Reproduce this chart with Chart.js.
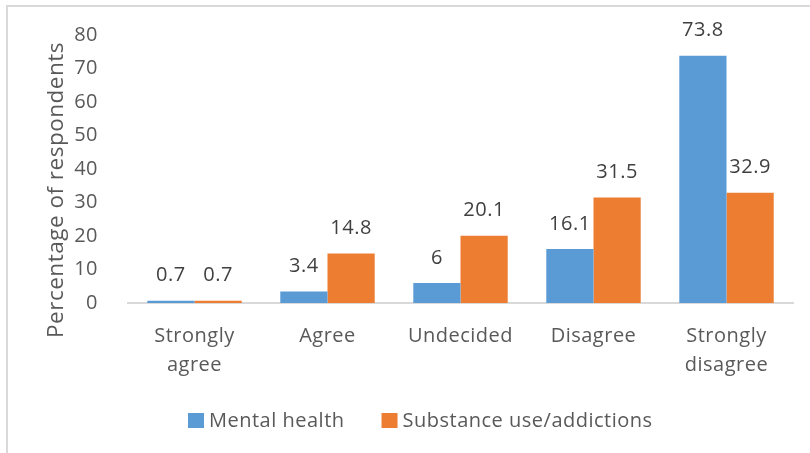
<!DOCTYPE html>
<html>
<head>
<meta charset="utf-8">
<script src="https://cdn.jsdelivr.net/npm/chart.js@4.4.1/dist/chart.umd.min.js"></script>
<style>
  html, body { margin: 0; padding: 0; background: #ffffff; }
  #wrap { width: 810px; height: 453px; position: relative; }
</style>
</head>
<body>
<div id="wrap"><canvas id="c" width="810" height="453"></canvas></div>
<script>
const categories = [["Strongly", "agree"], "Agree", "Undecided", "Disagree", ["Strongly", "disagree"]];
const mentalHealth = [0.7, 3.4, 6, 16.1, 73.8];
const substanceUse = [0.7, 14.8, 20.1, 31.5, 32.9];
const seriesNames = ["Mental health", "Substance use/addictions"];
const yTitle = "Percentage of respondents";

const FONT = "'Open Sans', sans-serif";
const SPACING = '0.5px';

const spacingPlugin = {
  id: 'spacing',
  beforeInit(chart) { chart.ctx.letterSpacing = SPACING; },
  beforeUpdate(chart) { chart.ctx.letterSpacing = SPACING; },
  beforeLayout(chart) { chart.ctx.letterSpacing = SPACING; },
  beforeDraw(chart) { chart.ctx.letterSpacing = SPACING; }
};

const framePlugin = {
  id: 'frame',
  beforeDraw(chart) {
    const ctx = chart.ctx;
    ctx.save();
    ctx.fillStyle = '#ffffff';
    ctx.fillRect(0, 0, chart.width, chart.height);
    ctx.strokeStyle = '#d9d9d9';
    ctx.lineWidth = 2;
    ctx.strokeRect(7, 6, 1000, 1000);
    ctx.restore();
  }
};

const labelPlugin = {
  id: 'valueLabels',
  afterDatasetsDraw(chart) {
    const ctx = chart.ctx;
    ctx.save();
    ctx.letterSpacing = SPACING;
    ctx.font = "20px " + FONT;
    ctx.fillStyle = '#404040';
    ctx.textAlign = 'center';
    ctx.textBaseline = 'middle';
    chart.data.datasets.forEach((ds, i) => {
      const meta = chart.getDatasetMeta(i);
      meta.data.forEach((bar, j) => {
        const p = bar.getProps(['x', 'y'], true);
        ctx.fillText(String(ds.data[j]), p.x, p.y - 25);
      });
    });
    // y axis title
    ctx.font = "22.5px " + FONT;
    ctx.fillStyle = '#595959';
    ctx.translate(57, 190);
    ctx.rotate(-Math.PI / 2);
    ctx.fillText(yTitle, 0, 0);
    ctx.restore();
  }
};

const legendPlugin = {
  id: 'customLegend',
  afterDraw(chart) {
    const ctx = chart.ctx;
    ctx.save();
    ctx.letterSpacing = SPACING;
    ctx.font = "20px " + FONT;
    ctx.textAlign = 'left';
    ctx.textBaseline = 'middle';
    let x = 188;
    const y = 420.5;
    chart.data.datasets.forEach((ds) => {
      ctx.fillStyle = ds.backgroundColor;
      ctx.fillRect(x, y - 7.5, 16, 15);
      x += 16 + 5;
      ctx.fillStyle = '#595959';
      ctx.fillText(ds.label, x, y + 1);
      x += ctx.measureText(ds.label).width + 37;
    });
    ctx.restore();
  }
};

new Chart(document.getElementById('c'), {
  type: 'bar',
  data: {
    labels: categories,
    datasets: [
      { label: seriesNames[0], data: mentalHealth, backgroundColor: '#5B9BD5' },
      { label: seriesNames[1], data: substanceUse, backgroundColor: '#ED7D31' }
    ]
  },
  options: {
    responsive: false,
    animation: false,
    devicePixelRatio: 1,
    layout: { padding: { top: 35, right: 17, bottom: 0, left: 0 } },
    datasets: { bar: { categoryPercentage: 0.71, barPercentage: 1.0 } },
    scales: {
      y: {
        min: 0, max: 80,
        ticks: { stepSize: 10, color: '#595959', font: { family: FONT, size: 20 }, padding: 22 },
        grid: { display: false },
        border: { display: false },
        afterFit(scale) { scale.width = 128; }
      },
      x: {
        ticks: { color: '#595959', font: { family: FONT, size: 20, lineHeight: 1.45 }, padding: 19, maxRotation: 0 },
        grid: { display: false, drawTicks: false },
        border: { display: true, color: '#d9d9d9', width: 2 },
        afterFit(scale) { scale.height = 150; }
      }
    },
    plugins: {
      legend: { display: false },
      tooltip: { enabled: false }
    }
  },
  plugins: [spacingPlugin, framePlugin, labelPlugin, legendPlugin]
});
</script>
</body>
</html>
